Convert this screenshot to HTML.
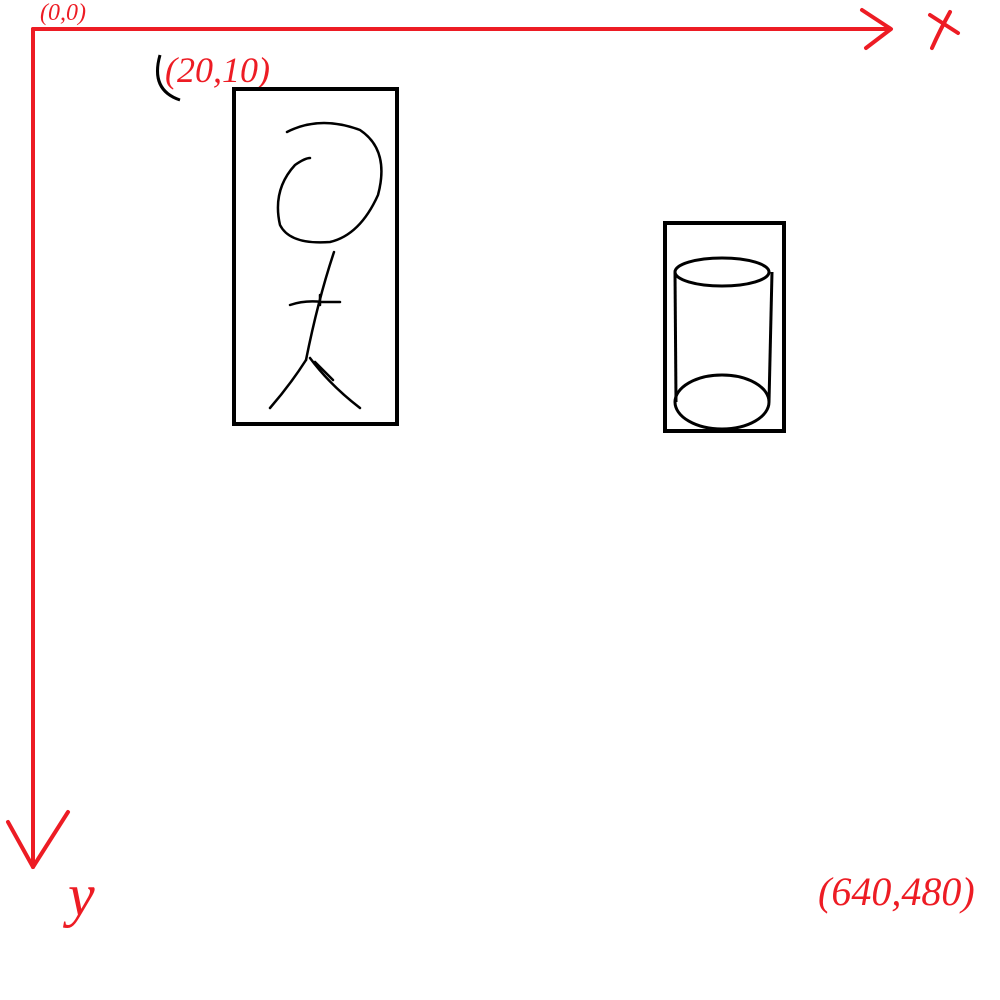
<!DOCTYPE html>
<html><head><meta charset="utf-8"><style>
html,body{margin:0;padding:0;background:#fff;width:1000px;height:1000px;overflow:hidden}
svg{display:block}
text{font-family:"Liberation Serif",serif;font-style:italic;fill:#ed1c24}
</style></head><body>
<svg width="1000" height="1000" viewBox="0 0 1000 1000">
<g stroke="#ed1c24" stroke-width="4" fill="none" stroke-linecap="round" stroke-linejoin="round">
<line x1="33" y1="29" x2="890" y2="29"/>
<polyline points="862,10 891,29 866,48"/>
<line x1="33" y1="29" x2="33" y2="867"/>
<polyline points="8,822 33,867 68,812"/>
<path d="M930,15 L958,33 M950,12 Q940,30 932,48"/>
</g>
<text x="40" y="20" font-size="24">(0,0)</text>
<text x="165" y="82" font-size="36">(20,10)</text>
<text x="920" y="50" font-size="0">x</text>
<text x="68" y="915" font-size="60">y</text>
<text x="818" y="905" font-size="40">(640,480)</text>
<g stroke="#000" stroke-width="4" fill="none">
<rect x="234" y="89" width="163" height="335"/>
<rect x="665" y="223" width="119" height="208"/>
</g>
<g stroke="#000" stroke-width="2.5" fill="none" stroke-linecap="round" stroke-linejoin="round">
<path d="M287,132 Q320,115 360,130 Q390,150 378,195 Q360,235 330,242 Q290,245 280,225 Q272,190 295,165 Q305,158 310,158"/>
<path d="M334,252 Q318,300 306,360"/>
<path d="M290,305 Q305,300 322,302 L340,302 M320,295 L320,305"/>
<path d="M306,360 Q290,385 270,408 M310,358 Q330,385 360,408 M315,362 L333,380"/>
</g>
<g stroke="#000" stroke-width="3" fill="none">
<ellipse cx="722" cy="272" rx="47" ry="14"/>
<ellipse cx="722" cy="402" rx="47" ry="27"/>
<line x1="675" y1="272" x2="676" y2="402"/>
<line x1="772" y1="272" x2="769" y2="402"/>
</g>
<path d="M160,55 Q150,90 180,100" stroke="#000" stroke-width="3" fill="none"/>
</svg>
</body></html>
